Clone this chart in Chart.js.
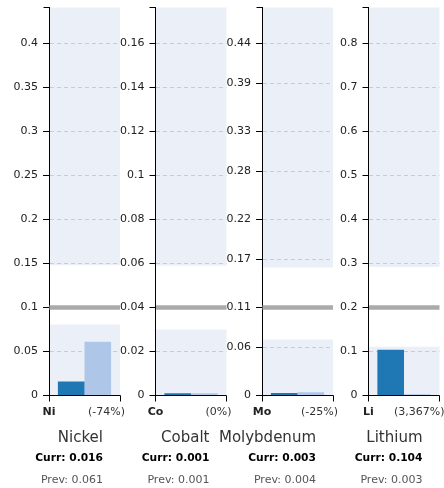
<!DOCTYPE html>
<html><head><meta charset="utf-8">
<script src="https://cdn.jsdelivr.net/npm/chart.js@4.4.1/dist/chart.umd.min.js"></script>
<style>
html,body{margin:0;padding:0;background:#fff;}
#wrap{position:relative;width:444px;height:488px;overflow:hidden;}
#wrap canvas{position:absolute;left:0;top:0;}
.t{position:absolute;white-space:nowrap;font-family:"DejaVu Sans";text-align:right;}
.nm{font-size:15px;line-height:15px;color:#333;}
.cu{font-size:10.7px;line-height:10.7px;font-weight:bold;color:#000;}
.pv{font-size:11px;line-height:11px;color:#555;}
</style></head><body><div id="wrap"></div>
<script>
// ---- data ----
const symbols = ['Ni', 'Co', 'Mo', 'Li'];
const names = ['Nickel', 'Cobalt', 'Molybdenum', 'Lithium'];
const currValues = [0.016, 0.001, 0.003, 0.104];
const prevValues = [0.061, 0.001, 0.004, 0.003];
const currLabels = ['0.016', '0.001', '0.003', '0.104'];
const prevLabels = ['0.061', '0.001', '0.004', '0.003'];
const changeLabels = ['(-74%)', '(0%)', '(-25%)', '(3,367%)'];
const axisMax = [0.441, 0.1764, 0.485, 0.882];
const breakValues = [0.1, 0.04, 0.11, 0.2];
const lowerBandTop = [0.0807, 0.030, 0.070, 0.111];
const upperBandBottom = [0.148, 0.059, 0.160, 0.292];
const tickValues = [
  [0, 0.05, 0.1, 0.15, 0.2, 0.25, 0.3, 0.35, 0.4],
  [0, 0.02, 0.04, 0.06, 0.08, 0.1, 0.12, 0.14, 0.16],
  [0, 0.06, 0.11, 0.17, 0.22, 0.28, 0.33, 0.39, 0.44],
  [0, 0.1, 0.2, 0.3, 0.4, 0.5, 0.6, 0.7, 0.8]
];
const tickLabels = [
  ['0', '0.05', '0.1', '0.15', '0.2', '0.25', '0.3', '0.35', '0.4'],
  ['0', '0.02', '0.04', '0.06', '0.08', '0.1', '0.12', '0.14', '0.16'],
  ['0', '0.06', '0.11', '0.17', '0.22', '0.28', '0.33', '0.39', '0.44'],
  ['0', '0.1', '0.2', '0.3', '0.4', '0.5', '0.6', '0.7', '0.8']
];

// ---- layout ----
const W = 444, H = 488;
const PLOT_TOP = 7.5, PLOT_BOTTOM = 395.5;
const FIRST_LEFT = 49, STEP = 106.5, PLOT_W = 71, YAXIS_W = 45;
const BAND = '#ebf0f8', CURR_C = '#1f77b4', PREV_C = '#aec7e8';

const wrap = document.getElementById('wrap');

function decor(i) {
  return {
    id: 'decor' + i,
    beforeDraw(chart) {
      const {ctx, chartArea: a, scales: {y}} = chart;
      ctx.save();
      ctx.fillStyle = BAND;
      const yu = y.getPixelForValue(upperBandBottom[i]);
      ctx.fillRect(a.left, a.top, a.right - a.left, yu - a.top);
      const yl = y.getPixelForValue(lowerBandTop[i]);
      ctx.fillRect(a.left, yl, a.right - a.left, a.bottom - yl);
      ctx.restore();
    },
    beforeDatasetsDraw(chart) {
      const {ctx, chartArea: a, scales: {y}} = chart;
      const yb = y.getPixelForValue(breakValues[i]);
      ctx.save();
      ctx.strokeStyle = '#aaaaaa';
      ctx.lineWidth = 4.5;
      ctx.beginPath();
      ctx.moveTo(a.left + 0.5, yb);
      ctx.lineTo(a.right, yb);
      ctx.stroke();
      ctx.restore();
    },
    afterDraw(chart) {
      const {ctx, chartArea: a, scales: {y}} = chart;
      const x0 = Math.round(a.left - 0.5) + 0.5;
      const x1 = Math.round(a.right - 0.5) + 0.5;
      const yTop = Math.round(y.getPixelForValue(axisMax[i]) - 0.5) + 0.5;
      const yZero = Math.round(y.getPixelForValue(0) - 0.5) + 0.5;
      ctx.save();
      ctx.strokeStyle = '#000';
      ctx.lineWidth = 1;
      ctx.beginPath();
      ctx.moveTo(x0 - 6, yTop); ctx.lineTo(x0, yTop);
      ctx.moveTo(x0, yZero); ctx.lineTo(x1, yZero);
      ctx.moveTo(x0, yZero); ctx.lineTo(x0, yZero + 6);
      ctx.moveTo(x1, yZero); ctx.lineTo(x1, yZero + 6);
      ctx.stroke();
      ctx.fillStyle = '#222';
      ctx.textBaseline = 'alphabetic';
      ctx.font = 'bold 11px "DejaVu Sans"';
      ctx.textAlign = 'center';
      ctx.fillText(symbols[i], a.left, 415.3);
      ctx.fillStyle = '#333';
      ctx.font = '11px "DejaVu Sans"';
      ctx.textAlign = 'right';
      ctx.fillText(changeLabels[i], a.right + 5, 415.3);
      ctx.restore();
    }
  };
}

for (let i = 0; i < symbols.length; i++) {
  const left = FIRST_LEFT + i * STEP;
  const right = left + PLOT_W;
  const cv = document.createElement('canvas');
  cv.width = W; cv.height = H;
  cv.style.width = W + 'px'; cv.style.height = H + 'px';
  wrap.appendChild(cv);

  new Chart(cv, {
    type: 'bar',
    data: {
      labels: [symbols[i]],
      datasets: [
        {label: 'Curr', data: [currValues[i]], backgroundColor: CURR_C, categoryPercentage: 0.75, barPercentage: 1},
        {label: 'Prev', data: [prevValues[i]], backgroundColor: PREV_C, categoryPercentage: 0.75, barPercentage: 1}
      ]
    },
    options: {
      responsive: false,
      animation: false,
      events: [],
      layout: {padding: {left: left - YAXIS_W, right: W - right, top: PLOT_TOP, bottom: H - PLOT_BOTTOM}},
      plugins: {legend: {display: false}, tooltip: {enabled: false}, title: {display: false}},
      scales: {
        x: {display: false},
        y: {
          min: 0,
          max: axisMax[i],
          afterBuildTicks: s => { s.ticks = tickValues[i].map(v => ({value: v})); },
          afterFit: s => { s.width = YAXIS_W; s.paddingTop = 0; s.paddingBottom = 0; },
          ticks: {
            autoSkip: false,
            padding: 5,
            color: '#222',
            font: {family: 'DejaVu Sans', size: 11},
            callback: (v, idx) => tickLabels[i][idx]
          },
          grid: {
            drawOnChartArea: true,
            drawTicks: true,
            tickLength: 6,
            tickColor: '#000',
            tickWidth: 1,
            tickBorderDash: [],
            lineWidth: 1,
            color: ctx => (ctx.tick && (ctx.tick.value === 0 || ctx.tick.value === breakValues[i])) ? 'rgba(0,0,0,0)' : '#cccccc'
          },
          border: {display: true, color: '#000', width: 1, dash: [4, 3]}
        }
      }
    },
    plugins: [decor(i)]
  });

  const xr = right - 17;
  const rows = [
    ['nm', names[i], 442.5, 15],
    ['cu', 'Curr: ' + currLabels[i], 462.3, 10.7],
    ['pv', 'Prev: ' + prevLabels[i], 483, 11]
  ];
  rows.forEach(([cls, txt, base, fs]) => {
    const d = document.createElement('div');
    d.className = 't ' + cls;
    d.textContent = txt;
    d.style.right = (W - xr) + 'px';
    d.style.top = (base - 0.846 * fs) + 'px';
    wrap.appendChild(d);
  });
}
</script></body></html>
